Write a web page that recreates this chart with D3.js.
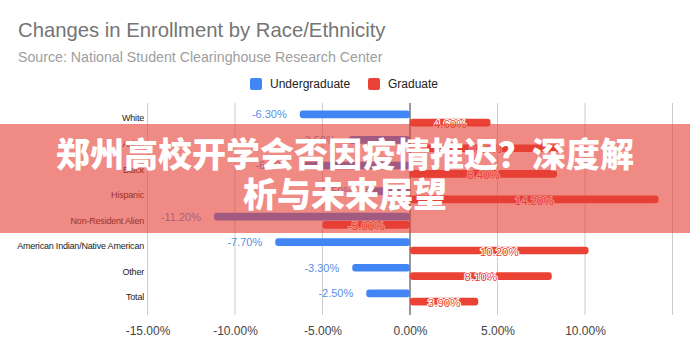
<!DOCTYPE html>
<html>
<head>
<meta charset="utf-8">
<script src="https://cdn.jsdelivr.net/npm/d3@7"></script>
<style>
  body { margin: 0; background: #fff; }
  #chart { width: 690px; height: 353px; }
</style>
</head>
<body>
<div id="chart"></div>
<script>
// Chart data
const categories = ["White", "Asian", "Black", "Hispanic", "Non-Resident Alien",
    "American Indian/Native American", "Other", "Total"];
const seriesNames = ["Undergraduate", "Graduate"];
const undergraduate = [-6.3, -3.5, -6.1, -2.5, -11.2, -7.7, -3.3, -2.5];
const graduate = [4.6, 8.6, 8.4, 14.2, -5.0, 10.2, 8.1, 3.9];
const gridValues = [-15, -10, -5, 0, 5, 10, 15];
const tickLabels = ["-15.00%", "-10.00%", "-5.00%", "0.00%", "5.00%", "10.00%"];
const headline = ["郑州高校开学会否因疫情推迟？深度解", "析与未来展望"];

const colors = { Undergraduate: "#4285F4", Graduate: "#EA4335" };
const font = "'Liberation Sans', Arial, sans-serif";

// plain hyphen instead of d3's unicode minus
const pct = v => d3.format(".2f")(v).replace("\u2212", "-") + "%";

const width = 690, height = 353;
const svg = d3.select("#chart").append("svg")
    .attr("width", width)
    .attr("height", height)
    .style("font-family", font);

// Title
svg.append("text")
    .attr("x", 18).attr("y", 37)
    .style("font-size", "20.3px")
    .style("fill", "#757575")
    .text("Changes in Enrollment by Race/Ethnicity");

svg.append("text")
    .attr("x", 18).attr("y", 62)
    .style("font-size", "14.2px")
    .style("fill", "#9e9e9e")
    .text("Source: National Student Clearinghouse Research Center");

// Legend
const legend = svg.append("g").attr("transform", "translate(250,78)");
const legendX = [0, 118];
seriesNames.forEach((s, i) => {
    const g = legend.append("g").attr("transform", `translate(${legendX[i]},0)`);
    g.append("rect").attr("width", 12).attr("height", 12).attr("rx", 2)
        .attr("fill", colors[s]);
    g.append("text").attr("x", 20).attr("y", 6).attr("dy", "0.35em")
        .style("font-size", "12px").style("fill", "#222").text(s);
});

// Scales
const x = d3.scaleLinear().domain([-15, 15]).range([147.5, 672.5]);
const y = d3.scaleBand().domain(categories).range([105.7, 310.3]).padding(0);
const sub = d3.scaleBand().domain(seriesNames).range([-8, 8]).paddingInner(0.08);

// Grid
svg.append("g").selectAll("line")
    .data(gridValues)
    .enter().append("line")
    .attr("x1", d => x(d)).attr("x2", d => x(d))
    .attr("y1", 103).attr("y2", 315)
    .style("stroke", d => d === 0 ? "#333" : "#ccc")
    .style("stroke-width", 1);

// x axis labels
const xAxis = svg.append("g")
    .attr("transform", "translate(0,315)")
    .call(d3.axisBottom(x)
        .tickValues(gridValues.slice(0, tickLabels.length))
        .tickFormat((d, i) => tickLabels[i])
        .tickSize(0)
        .tickPadding(11));
xAxis.select(".domain").remove();
xAxis.selectAll("text")
    .style("font-family", font)
    .style("font-size", "12px")
    .style("fill", "#444");

// y axis labels
const yAxis = svg.append("g")
    .attr("transform", "translate(144,0)")
    .call(d3.axisLeft(y).tickSize(0).tickPadding(0));
yAxis.select(".domain").remove();
yAxis.selectAll("text")
    .style("font-family", font)
    .style("font-size", "9px")
    .style("letter-spacing", "-0.2px")
    .style("fill", "#222");

// Bars
const rows = categories.map((c, i) => ({
    category: c,
    values: [
        { series: "Undergraduate", value: undergraduate[i] },
        { series: "Graduate", value: graduate[i] }
    ]
}));

const groups = svg.append("g").selectAll("g")
    .data(rows)
    .enter().append("g")
    .attr("transform", d => `translate(0,${y(d.category) + y.bandwidth() / 2})`);

groups.selectAll("rect")
    .data(d => d.values)
    .enter().append("rect")
    .attr("x", d => x(Math.min(0, d.value)))
    .attr("y", d => sub(d.series))
    .attr("width", d => Math.abs(x(d.value) - x(0)))
    .attr("height", sub.bandwidth())
    .attr("rx", 3)
    .attr("fill", d => colors[d.series]);

// Undergraduate labels sit outside the bar end
groups.selectAll("text.ug")
    .data(d => d.values.filter(v => v.series === "Undergraduate"))
    .enter().append("text")
    .attr("class", "ug")
    .attr("x", d => x(d.value) - 13)
    .attr("y", d => sub(d.series) + sub.bandwidth() / 2)
    .attr("dy", "0.36em")
    .attr("text-anchor", "end")
    .style("font-size", "11px")
    .style("fill", "#5a8fe6")
    .text(d => pct(d.value));

// Graduate labels centred on the bar
groups.selectAll("text.gr")
    .data(d => d.values.filter(v => v.series === "Graduate"))
    .enter().append("text")
    .attr("class", "gr")
    .attr("x", d => (x(d.value) + x(0)) / 2)
    .attr("y", d => sub(d.series) + sub.bandwidth() / 2 + 1)
    .attr("dy", "0.36em")
    .attr("text-anchor", "middle")
    .style("font-size", "11.5px")
    .style("fill", "#EA4335")
    .style("paint-order", "stroke")
    .style("stroke", "#fff")
    .style("stroke-width", "2px")
    .style("stroke-linejoin", "round")
    .text(d => pct(d.value));

// Headline banner over the chart
svg.append("rect")
    .attr("x", 0).attr("y", 124)
    .attr("width", width).attr("height", 109)
    .attr("fill", "rgba(228, 62, 50, 0.6)");

svg.append("g").selectAll("text")
    .data(headline)
    .enter().append("text")
    .attr("x", width / 2)
    .attr("y", (d, i) => 155 + i * 40)
    .attr("dy", "0.36em")
    .attr("text-anchor", "middle")
    .style("font-family", "'Noto Sans CJK SC', sans-serif")
    .style("font-weight", 900)
    .style("font-size", "34px")
    .style("fill", "#fff")
    .text(d => d);
</script>
</body>
</html>
